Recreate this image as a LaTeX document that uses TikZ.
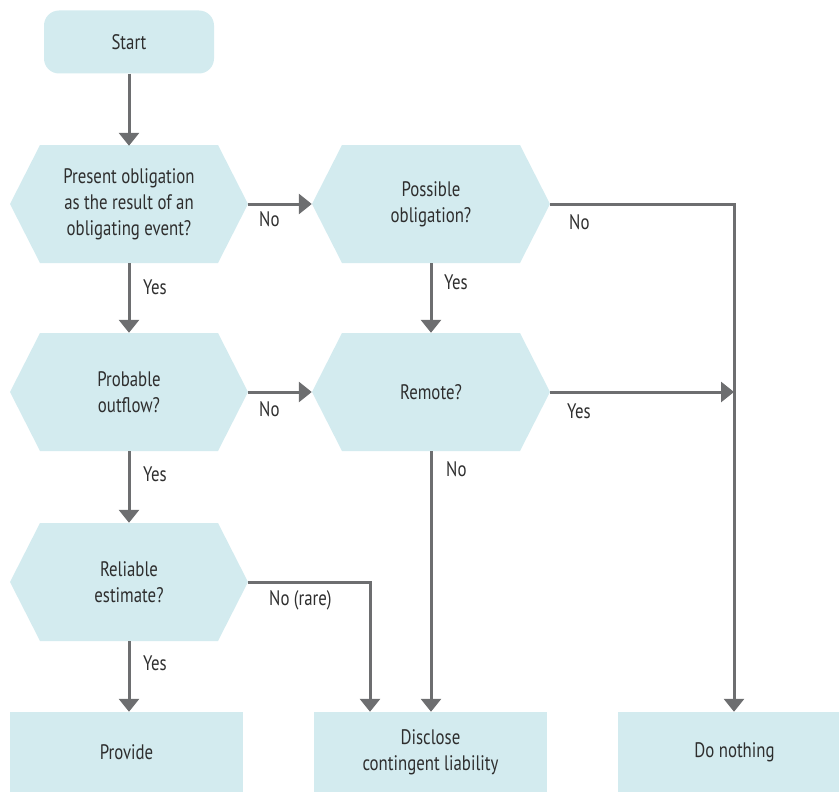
\documentclass[tikz,border=0pt]{standalone}
\usepackage{fontspec}
\setmainfont{PT Sans}[FakeStretch=0.8]
\usetikzlibrary{arrows.meta}
\definecolor{boxfill}{HTML}{D3EBEF}
\definecolor{linkgray}{HTML}{6D6E70}
\definecolor{textgray}{HTML}{2E2E2E}
\tikzset{
  every node/.style={text=textgray, font=\fontsize{21}{26}\selectfont},
  base/.style={inner sep=0pt, align=center},
  startbox/.style={base, fill=boxfill, rounded corners=15pt, minimum width=170pt, minimum height=63pt},
  endbox/.style={base, fill=boxfill, minimum width=233pt, minimum height=80pt},
  hexbox/.style={base, minimum width=238pt, minimum height=118pt,
    path picture={\fill[boxfill]
      (path picture bounding box.west)
      -- ([xshift=30pt]path picture bounding box.north west)
      -- ([xshift=-30pt]path picture bounding box.north east)
      -- (path picture bounding box.east)
      -- ([xshift=-30pt]path picture bounding box.south east)
      -- ([xshift=30pt]path picture bounding box.south west)
      -- cycle;}},
  link/.style={draw=linkgray, line width=3pt, -{Triangle[width=20pt,length=13pt]}},
  lbl/.style={inner sep=0pt, anchor=west}
}
\begin{document}
\begin{tikzpicture}[x=1pt, y=-1pt]
  \useasboundingbox (0,0) rectangle (839,792);

  % decisions and outcomes
  \node[startbox] (start) at (129,42) {Start};
  \node[hexbox] (present) at (129,204) {Present obligation\\as the result of an\\obligating event?};
  \node[hexbox] (possible) at (431,204) {Possible\\obligation?};
  \node[hexbox] (probable) at (129,392) {Probable\\outflow?};
  \node[hexbox] (remote) at (431,392) {Remote?};
  \node[hexbox] (reliable) at (129,582) {Reliable\\estimate?};
  \node[endbox] (provide) at (126.5,752) {Provide};
  \node[endbox] (disclose) at (430.5,752) {Disclose\\contingent liability};
  \node[endbox] (nothing) at (734.5,752) {Do nothing};

  % helper points on the right-hand collector line
  \coordinate (rtop) at (734,204);
  \coordinate (rmid) at (734,392);
  \coordinate (rarecorner) at (370,582);

  % connectors
  \draw[link] (start.south) -- ([yshift=-1pt]present.north);
  \draw[link] (present.east) -- (possible.west);
  \draw[link] (present.south) -- (probable.north);
  \draw[link] (possible.south) -- (remote.north);
  \draw[link] (probable.east) -- (remote.west);
  \draw[link] (probable.south) -- (reliable.north);
  \draw[link] (reliable.south) -- ([xshift=2.5pt]provide.north);
  \draw[link] (remote.south) -- ([xshift=0.5pt]disclose.north);
  \draw[link] (reliable.east) -- (rarecorner) -- (rarecorner |- disclose.north);
  \draw[link] (possible.east) -- (rtop) -- (rtop |- nothing.north);
  \draw[link] (remote.east) -- (rmid);

  % branch labels
  \node[lbl] (l1) at (259,219) {No};
  \node[lbl] (l2) at (569,222) {No};
  \node[lbl] (l3) at (143,287) {Yes};
  \node[lbl] (l4) at (444,282) {Yes};
  \node[lbl] (l5) at (259,409) {No};
  \node[lbl] (l6) at (567,411) {Yes};
  \node[lbl] (l7) at (446,469) {No};
  \node[lbl] (l8) at (143,474) {Yes};
  \node[lbl] (l9) at (269,600) {No (rare)};
  \node[lbl] (l10) at (143,663) {Yes};
\end{tikzpicture}
\end{document}
